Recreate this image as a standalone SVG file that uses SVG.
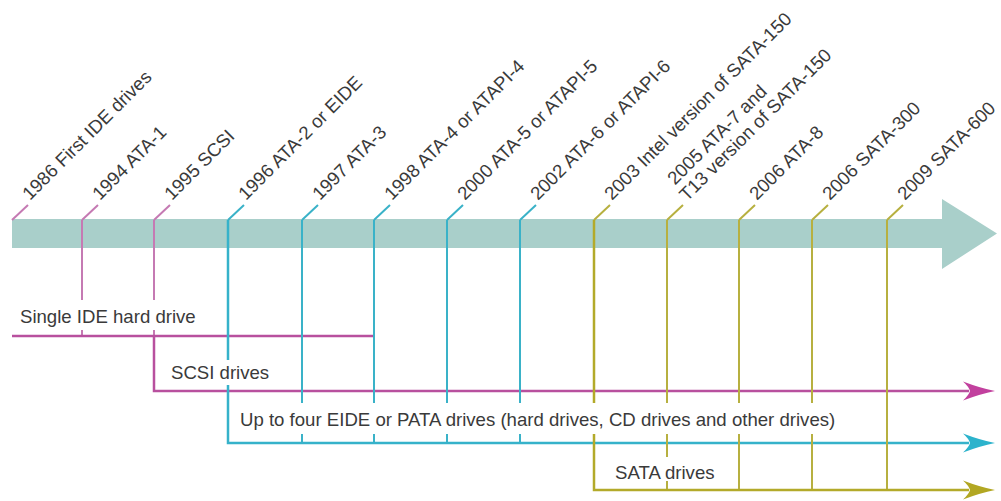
<svg xmlns="http://www.w3.org/2000/svg" xmlns:xlink="http://www.w3.org/1999/xlink" width="1001" height="501" viewBox="0 0 1001 501">
<style>
text{font-family:"Liberation Sans",Arial,Helvetica,sans-serif;font-size:18.6px;fill:#3a3a3a}
.m{stroke:#c57ab3;stroke-width:2;fill:none}
.mh{stroke:#b8509e;stroke-width:2.5;fill:none}
.c{stroke:#3ab2c8;stroke-width:2;fill:none}
.ch{stroke:#36b2ca;stroke-width:2.5;fill:none}
.o{stroke:#b7b040;stroke-width:2;fill:none}
.oh{stroke:#b3aa2a;stroke-width:2.5;fill:none}
.bg{fill:#fff}
</style>
<defs>
<path id="ah" d="M0,0 Q-15,-3 -32,-9.5 Q-26,-4 -25,0 Q-26,4 -32,9.5 Q-15,3 0,0 Z"/>
</defs>
<rect width="1001" height="501" fill="#fff"/>
<g id="timeline-band">
<path d="M12,219 H942 V199 L997,233.5 L942,269 V248 H12 Z" fill="#a9cfca"/>
</g>
<g id="connectors">
<path class="m" d="M12,220 L28,205"/>
<path class="m" d="M82,220 L98,205 M82,220 V336"/>
<path class="m" d="M154,220 L170,205 M154,220 V336"/>
<path class="mh" d="M12,336 H374"/>
<path class="mh" d="M154,336 V391 H969"/>
<path class="c" d="M228,220 L244,205 M302,220 L318,205 M374,220 L390,205 M447,220 L463,205 M520,220 L536,205"/>
<path class="c" d="M302,220 V443 M374,220 V443 M447,220 V443 M520,220 V443"/>
<path class="ch" d="M228,220 V443 H969"/>
<path class="o" d="M594,220 L610,205 M667,220 L683,205 M739,220 L755,205 M812,220 L828,205 M887,220 L903,205"/>
<path class="o" d="M667,220 V490 M739,220 V490 M812,220 V490 M887,220 V490"/>
<path class="oh" d="M594,220 V490 H969"/>
<use xlink:href="#ah" href="#ah" x="995" y="391" fill="#c2409e"/>
<use xlink:href="#ah" href="#ah" x="995" y="443" fill="#2cb3cc"/>
<use xlink:href="#ah" href="#ah" x="995" y="490" fill="#b2a722"/>
</g>
<g id="track-single-ide">
<rect class="bg" x="16" y="300" width="186" height="30"/>
<text x="20" y="323">Single IDE hard drive</text>
</g>
<g id="track-scsi">
<rect class="bg" x="167" y="360" width="106" height="25"/>
<text x="171" y="379">SCSI drives</text>
</g>
<g id="track-eide">
<rect class="bg" x="236" y="403" width="613" height="31"/>
<text x="240" y="426">Up to four EIDE or PATA drives (hard drives, CD drives and other drives)</text>
</g>
<g id="track-sata">
<rect class="bg" x="611" y="457" width="112" height="24"/>
<text x="615" y="479">SATA drives</text>
</g>
<g id="ev-1986"><text transform="translate(30,201) rotate(-45)">1986 First IDE drives</text></g>
<g id="ev-1994"><text transform="translate(100,201) rotate(-45)">1994 ATA-1</text></g>
<g id="ev-1995"><text transform="translate(172,201) rotate(-45)">1995 SCSI</text></g>
<g id="ev-1996"><text transform="translate(246,201) rotate(-45)">1996 ATA-2 or EIDE</text></g>
<g id="ev-1997"><text transform="translate(320,201) rotate(-45)">1997 ATA-3</text></g>
<g id="ev-1998"><text transform="translate(392,201) rotate(-45)">1998 ATA-4 or ATAPI-4</text></g>
<g id="ev-2000"><text transform="translate(465,201) rotate(-45)">2000 ATA-5 or ATAPI-5</text></g>
<g id="ev-2002"><text transform="translate(538,201) rotate(-45)">2002 ATA-6 or ATAPI-6</text></g>
<g id="ev-2003"><text transform="translate(612,201) rotate(-45)">2003 Intel version of SATA-150</text></g>
<g id="ev-2005"><text transform="translate(687,202) rotate(-45)"><tspan x="3" y="-20">2005 ATA-7 and</tspan><tspan x="0" y="0">T13 version of SATA-150</tspan></text></g>
<g id="ev-2006a"><text transform="translate(757,201) rotate(-45)">2006 ATA-8</text></g>
<g id="ev-2006b"><text transform="translate(830,201) rotate(-45)">2006 SATA-300</text></g>
<g id="ev-2009"><text transform="translate(905,201) rotate(-45)">2009 SATA-600</text></g>
</svg>
